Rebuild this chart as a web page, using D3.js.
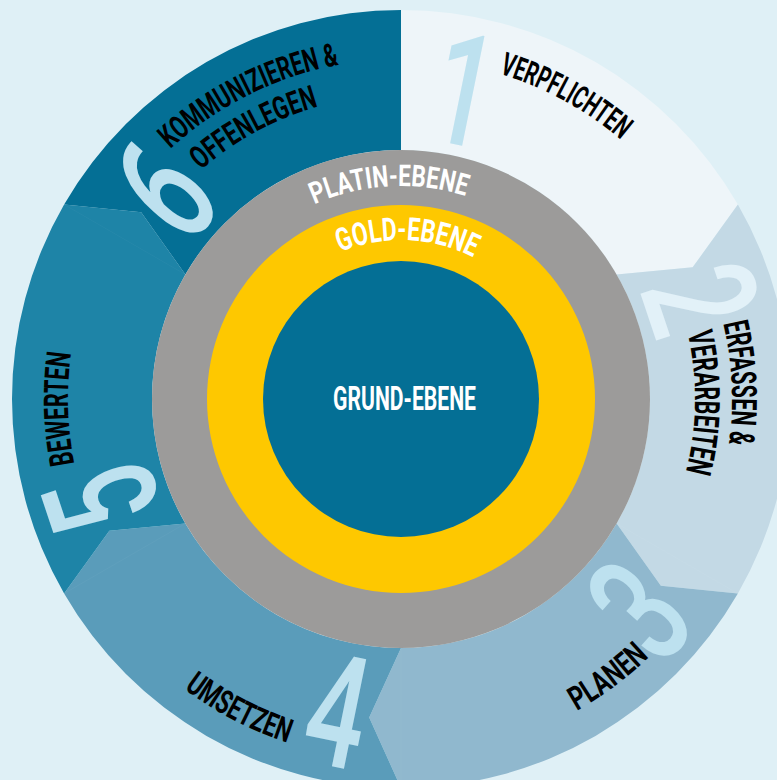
<!DOCTYPE html>
<meta charset="utf-8">
<script src="https://d3js.org/d3.v7.min.js"></script>
<style>
body { margin: 0; background: #dff0f6; }
svg { display: block; }
text { font-family: Roboto, "DejaVu Sans", sans-serif; }
.label { font-weight: 700; fill: #000; }
.level { font-weight: 700; fill: #fff; }
.num { font-weight: 500; }
</style>
<body>
<script>

// ---- data ----
var stepNumbers = ["1", "2", "3", "4", "5", "6"];
var stepLines = [
  ["VERPFLICHTEN"],
  ["ERFASSEN &", "VERARBEITEN"],
  ["PLANEN"],
  ["UMSETZEN"],
  ["BEWERTEN"],
  ["KOMMUNIZIEREN &", "OFFENLEGEN"]
];
var stepColors = ["#eef5f9", "#c3d9e5", "#90b8ce", "#5a9cba", "#1e84a7", "#046f95"];
var numColors = ["#bde1ef", "#e2f1f8", "#bde1ef", "#bde1ef", "#bde1ef", "#bde1ef"];
var levelNames = ["GRUND-EBENE", "GOLD-EBENE", "PLATIN-EBENE"];
var levelColors = ["#046f95", "#fec800", "#9c9b9a"];

// ---- layout ----
var width = 777, height = 780;
var cx = 401, cy = 399;
var rOuter = 389, rTip = 320, tipShift = 5.7;
var levelRadius = [138, 194, 249];

// label arcs: radius (baseline), start / end angle in degrees from north, clockwise
var lineArcs = [
  [{r: 340, a0: 16.8, a1: 40.3, fs: 32}],
  [{r: 331, a0: 76.8, a1: 97.8, fs: 35}, {r: 294, a0: 77.1, a1: 104.3, fs: 35}],
  [{r: 358, a0: 150.6, a1: 136.1, fs: 33}],
  [{r: 362, a0: 216.8, a1: 198.3, fs: 33}],
  [{r: 333, a0: 258.8, a1: 277.9, fs: 34}],
  [{r: 340, a0: 317.3, a1: 349.5, fs: 32}, {r: 304, a0: 318.8, a1: 344.2, fs: 32}]
];
var levelArcs = [null, {r: 159, a0: -22.5, a1: 27, fs: 32}, {r: 213, a0: -24, a1: 17.6, fs: 30}];

var angle = d3.scaleLinear().domain([0, stepNumbers.length]).range([0, 360]);

function rad(a) { return a * Math.PI / 180; }
function pt(r, a) { return [cx + r * Math.sin(rad(a)), cy - r * Math.cos(rad(a))]; }

var svg = d3.select("body").append("svg")
    .attr("width", width)
    .attr("height", height);

svg.append("rect").attr("width", width).attr("height", height).attr("fill", "#dff0f6");

var defs = svg.append("defs");

// segments with arrow tip at the head and notch at the tail
var n = stepNumbers.length;
function segPath(i) {
  var a0 = angle(i), a1 = angle(i + 1);
  var p = d3.path();
  var s = pt(rOuter, a0);
  p.moveTo(s[0], s[1]);
  p.arc(cx, cy, rOuter, rad(a0) - Math.PI / 2, rad(a1) - Math.PI / 2, false);
  if (i < n - 1) { var t = pt(rTip, a1 + tipShift); p.lineTo(t[0], t[1]); }
  var e = pt(levelRadius[2], a1);
  p.lineTo(e[0], e[1]);
  p.arc(cx, cy, levelRadius[2], rad(a1) - Math.PI / 2, rad(a0) - Math.PI / 2, true);
  if (i > 0) { var b = pt(rTip, a0 + tipShift); p.lineTo(b[0], b[1]); }
  p.closePath();
  return p.toString();
}

svg.append("g").selectAll("path")
  .data(stepColors)
  .join("path")
  .attr("d", function(d, i) { return segPath(i); })
  .attr("fill", function(d) { return d; });

// faint seams
svg.append("g").selectAll("line")
  .data(d3.range(1, n))
  .join("line")
  .attr("x1", function(i) { return pt(rOuter, angle(i))[0]; })
  .attr("y1", function(i) { return pt(rOuter, angle(i))[1]; })
  .attr("x2", function(i) { return pt(levelRadius[2], angle(i))[0]; })
  .attr("y2", function(i) { return pt(levelRadius[2], angle(i))[1]; })
  .attr("stroke", "#ffffff")
  .attr("stroke-opacity", 0.06)
  .attr("stroke-width", 0.6);

// big numbers
svg.append("g").selectAll("text")
  .data(stepNumbers)
  .join("text")
  .attr("class", "num")
  .attr("text-anchor", "middle")
  .attr("dy", "0.36em")
  .style("font-size", "157px")
  .attr("fill", function(d, i) { return numColors[i]; })
  .attr("transform", function(d, i) {
    var a = angle(i) + 11.5;
    var p = pt(317, a);
    var rot = (a > 90 && a < 240) ? a - 180 : a;
    return "translate(" + p[0] + "," + p[1] + ") rotate(" + rot + ") scale(0.66,1)";
  })
  .text(function(d) { return d; });

// curved text helper
var arcId = 0;
function arcText(g, txt, a, cls) {
  var id = "arc" + (arcId++);
  var cw = a.a1 > a.a0;
  var s = pt(a.r, a.a0), e = pt(a.r, a.a1);
  var large = Math.abs(a.a1 - a.a0) > 180 ? 1 : 0;
  defs.append("path").attr("id", id)
    .attr("d", "M" + s[0] + "," + s[1] + "A" + a.r + "," + a.r + " 0 " + large + "," + (cw ? 1 : 0) + " " + e[0] + "," + e[1]);
  var len = Math.abs(a.a1 - a.a0) * Math.PI / 180 * a.r;
  g.append("text")
    .attr("class", cls)
    .style("font-size", a.fs + "px")
    .append("textPath")
    .attr("href", "#" + id)
    .attr("textLength", len)
    .attr("lengthAdjust", "spacingAndGlyphs")
    .text(txt);
}

// level rings
svg.append("g").selectAll("circle")
  .data(levelRadius.slice().reverse())
  .join("circle")
  .attr("cx", cx).attr("cy", cy)
  .attr("r", function(d) { return d; })
  .attr("fill", function(d, i) { return levelColors[2 - i]; });

var lg = svg.append("g");
levelNames.forEach(function(name, i) {
  if (levelArcs[i]) arcText(lg, name, levelArcs[i], "level");
});
lg.append("text")
  .attr("class", "level")
  .attr("x", 333).attr("y", 410)
  .attr("textLength", 143)
  .attr("lengthAdjust", "spacingAndGlyphs")
  .style("font-size", "34px")
  .text(levelNames[0]);

// step labels
var tg = svg.append("g");
stepLines.forEach(function(lines, i) {
  lines.forEach(function(line, j) {
    arcText(tg, line, lineArcs[i][j], "label");
  });
});

</script>
</body>
